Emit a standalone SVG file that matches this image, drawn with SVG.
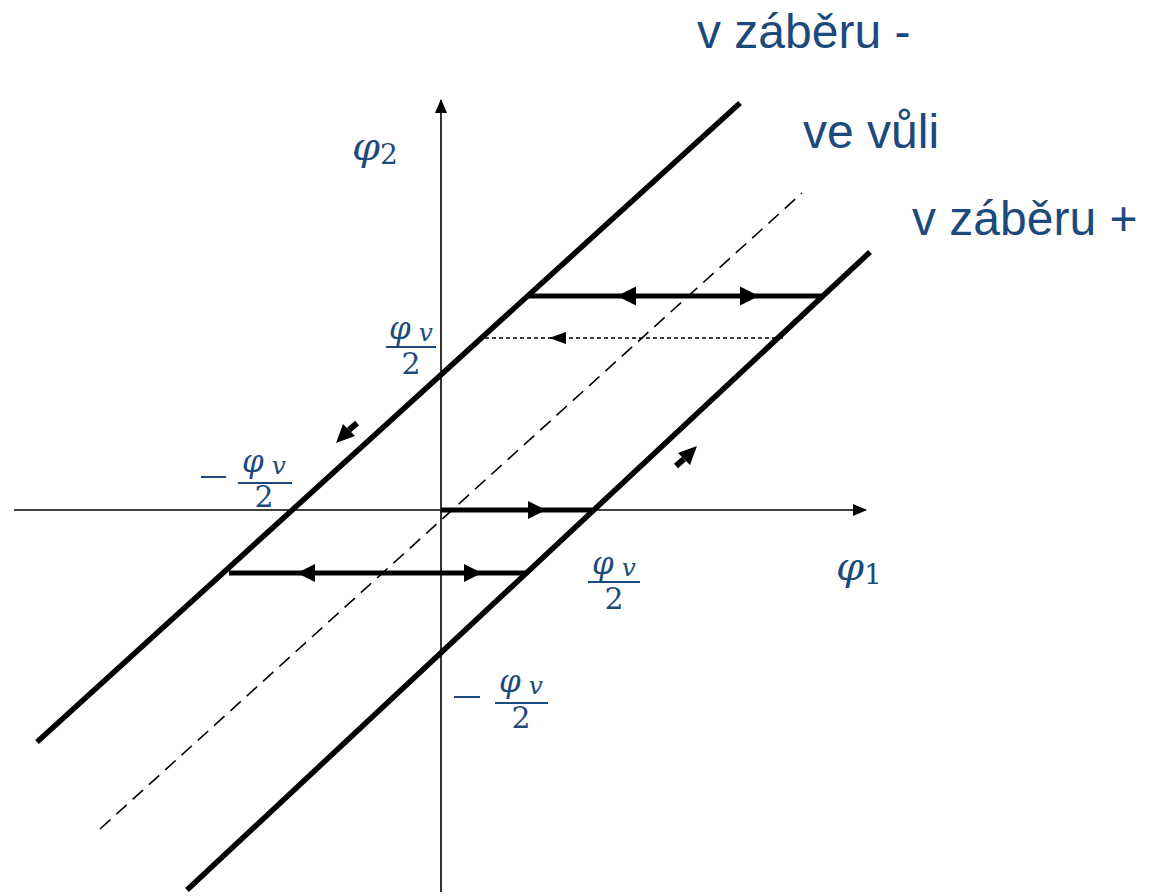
<svg xmlns="http://www.w3.org/2000/svg" width="1153" height="896" viewBox="0 0 1153 896">
<style>
.axis{stroke:#000;stroke-width:1.6;fill:none}
.thick{stroke:#000;stroke-width:5.5;fill:none}
.seg{stroke:#000;stroke-width:5;fill:none}
.dash{stroke:#000;stroke-width:1.6;fill:none;stroke-dasharray:14 8}
.dot{stroke:#000;stroke-width:1.5;fill:none;stroke-dasharray:4 3}
.head{fill:#000}
.lbl{font-family:"Liberation Sans",Arial,sans-serif;font-size:48px;fill:#1d4a7c}
.m{font-family:"DejaVu Serif","Liberation Serif",serif;fill:#1d4a7c}
.mi{font-style:italic}
.bar{stroke:#1d4a7c;stroke-width:2}
</style>
<defs>
<marker id="ah" markerWidth="14" markerHeight="12" refX="13" refY="6" orient="auto" markerUnits="userSpaceOnUse">
<path d="M0,0 L14,6 L0,12 Z" fill="#000"/>
</marker>
</defs>
<g id="connectors">
<line class="axis" x1="14" y1="510" x2="866" y2="510" marker-end="url(#ah)"/>
<line class="axis" x1="441" y1="892" x2="441" y2="100" marker-end="url(#ah)"/>
<line class="thick" x1="37" y1="742" x2="740" y2="103"/>
<line class="thick" x1="187" y1="890" x2="870" y2="252"/>
<line class="dash" x1="100" y1="829" x2="802" y2="193"/>
<line class="seg" x1="528" y1="296" x2="822" y2="296"/>
<polygon class="head" points="617,296 636,286.5 636,305.5"/>
<polygon class="head" points="759,296 740,286.5 740,305.5"/>
<line class="dot" x1="485" y1="338" x2="785" y2="338"/>
<polygon class="head" points="549,338 566,332 566,344"/>
<line class="seg" x1="441" y1="510" x2="592" y2="510"/>
<polygon class="head" points="546,510 528,501 528,519"/>
<line class="seg" x1="229" y1="573" x2="526" y2="573"/>
<polygon class="head" points="297,573 315,564 315,582"/>
<polygon class="head" points="482,573 464,564 464,582"/>
<g id="arrow-down-left">
<polygon class="head" points="336,443 343,424 355,436"/>
<line stroke="#000" stroke-width="6" x1="349" y1="430" x2="357" y2="423"/>
</g>
<g id="arrow-up-right">
<polygon class="head" points="697,446 690,465 678,453"/>
<line stroke="#000" stroke-width="6" x1="684" y1="459" x2="676" y2="466"/>
</g>
</g>
<g id="labels">
<text class="lbl" x="697" y="48">v záběru -</text>
<text class="lbl" x="803" y="148">ve vůli</text>
<text class="lbl" x="912" y="235">v záběru +</text>
</g>
<g id="phi2"><text class="m" x="352" y="160" font-size="40"><tspan class="mi">φ</tspan><tspan font-size="28" dy="4">2</tspan></text></g>
<g id="phi1"><text class="m" x="836" y="580" font-size="40"><tspan class="mi">φ</tspan><tspan font-size="28" dy="4">1</tspan></text></g>
<g id="frac-top">
<text class="m" x="411" y="339" font-size="31" text-anchor="middle"><tspan class="mi">φ</tspan><tspan class="mi" font-size="25" dy="2"> v</tspan></text>
<line class="bar" x1="386" y1="347" x2="436" y2="347"/>
<text class="m" x="411" y="374" font-size="30" text-anchor="middle">2</text>
</g>
<g id="frac-left">
<line class="bar" x1="201" y1="477" x2="226" y2="477"/>
<text class="m" x="264" y="472" font-size="31" text-anchor="middle"><tspan class="mi">φ</tspan><tspan class="mi" font-size="25" dy="2"> v</tspan></text>
<line class="bar" x1="238" y1="483" x2="292" y2="483"/>
<text class="m" x="264" y="507" font-size="30" text-anchor="middle">2</text>
</g>
<g id="frac-right">
<text class="m" x="614" y="574" font-size="31" text-anchor="middle"><tspan class="mi">φ</tspan><tspan class="mi" font-size="25" dy="2"> v</tspan></text>
<line class="bar" x1="588" y1="582" x2="640" y2="582"/>
<text class="m" x="614" y="609" font-size="30" text-anchor="middle">2</text>
</g>
<g id="frac-bottom">
<line class="bar" x1="454" y1="697" x2="480" y2="697"/>
<text class="m" x="521" y="692" font-size="31" text-anchor="middle"><tspan class="mi">φ</tspan><tspan class="mi" font-size="25" dy="2"> v</tspan></text>
<line class="bar" x1="495" y1="703" x2="548" y2="703"/>
<text class="m" x="521" y="728" font-size="30" text-anchor="middle">2</text>
</g>
</svg>
